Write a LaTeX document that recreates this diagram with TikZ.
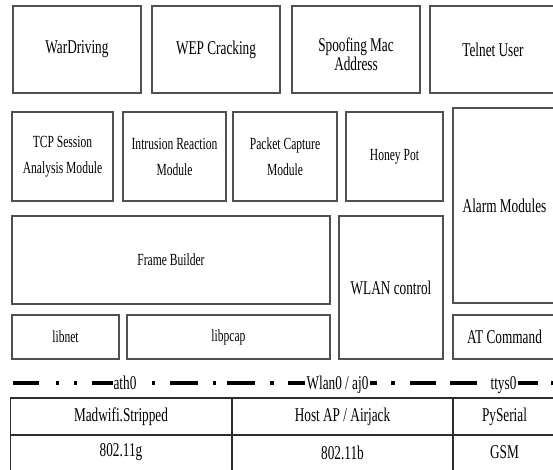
\documentclass[tikz,border=0pt]{standalone}
\usepackage{fontspec}
\setmainfont{Liberation Serif}[FakeStretch=0.68]
\usepackage{tikz}
\usetikzlibrary{calc}
\definecolor{boxgray}{RGB}{80,80,80}
\definecolor{tablegray}{RGB}{45,45,45}
\tikzset{
	boxline/.style={draw=boxgray, line width=1.1pt},
	bigtext/.style={font=\fontsize{19.5}{20}\selectfont, align=center, inner sep=0pt},
	smalltext/.style={font=\fontsize{17}{26}\selectfont, align=center, inner sep=0pt},
	ifline/.style={line width=4pt}
}
\tikzstyle{tableline}=[draw=tablegray, line width=1.1pt]
\newcommand{\modbox}[5]{
	\draw[boxline] #2 rectangle #3;
	\node[#4] (#1) at ($ #2 !.5! #3 $) {#5};
}
\begin{document}
\begin{tikzpicture}[x=1pt, y=-1pt]
	\useasboundingbox (0,0) rectangle (553,470);
%
	\modbox{wardrive}{(13,6)}{(141,93)}{bigtext}{WarDriving}
	\modbox{wepcrack}{(152,6)}{(280,93)}{bigtext}{WEP Cracking}
	\modbox{spoofmac}{(292,6)}{(420,93)}{bigtext, font=\fontsize{19.5}{16}\selectfont, yshift=-5pt}{Spoofing Mac\\Address}
	\modbox{telnet}{(430,6)}{(556,93)}{bigtext}{Telnet User}
%
	\modbox{tcpsess}{(12,112)}{(113,201)}{smalltext}{TCP Session\\Analysis Module}
	\modbox{intrusion}{(123,112)}{(226,201)}{smalltext}{Intrusion Reaction\\Module}
	\modbox{capture}{(233,112)}{(337,201)}{smalltext}{Packet Capture\\Module}
	\modbox{honeypot}{(346,112)}{(443,201)}{smalltext}{Honey Pot}
	\modbox{alarm}{(453,108)}{(556,303)}{bigtext}{Alarm Modules}
%
	\modbox{framebld}{(12,216)}{(330,304)}{smalltext}{Frame Builder}
	\modbox{wlanctl}{(339,216)}{(443,359)}{bigtext}{WLAN control}
	\modbox{libnet}{(12,315)}{(119,359)}{smalltext}{libnet}
	\modbox{libpcap}{(127,315)}{(330,359)}{smalltext}{libpcap}
	\modbox{atcmd}{(453,315)}{(556,359)}{bigtext}{AT Command}
%
	\foreach \a/\b in {13/39, 56/59, 74/77, 92/113, 152/155, 170/198, 213/216, 227/255,
		270/274, 288/305, 370/377, 391/395, 410/436, 450/477, 518/538, 551/556}
		\draw[ifline] (\a,383) -- (\b,383);
	\node[bigtext, anchor=base] (ath) at (125,389) {ath0};
	\node[bigtext, anchor=base] (wlanif) at (337.5,389) {Wlan0 / aj0};
	\node[bigtext, anchor=base] (ttys) at (503.5,389) {ttys0};
%
	\draw[tableline] (10.5,472) |- (556,398);
	\draw[tableline] (10.5,435) -- (556,435);
	\draw[tableline] (232,398) -- (232,472);
	\draw[tableline] (453,398) -- (453,472);
	\node[bigtext] (madwifi) at (121,416.5) {Madwifi.Stripped};
	\node[bigtext] (hostap) at (342.5,416.5) {Host AP / Airjack};
	\node[bigtext] (pyserial) at (504.5,416.5) {PySerial};
	\node[bigtext] (gdot) at (121,452.5) {802.11g};
	\node[bigtext] (bdot) at (342.5,452.5) {802.11b};
	\node[bigtext] (gsm) at (504.5,452.5) {GSM};
\end{tikzpicture}
\end{document}
